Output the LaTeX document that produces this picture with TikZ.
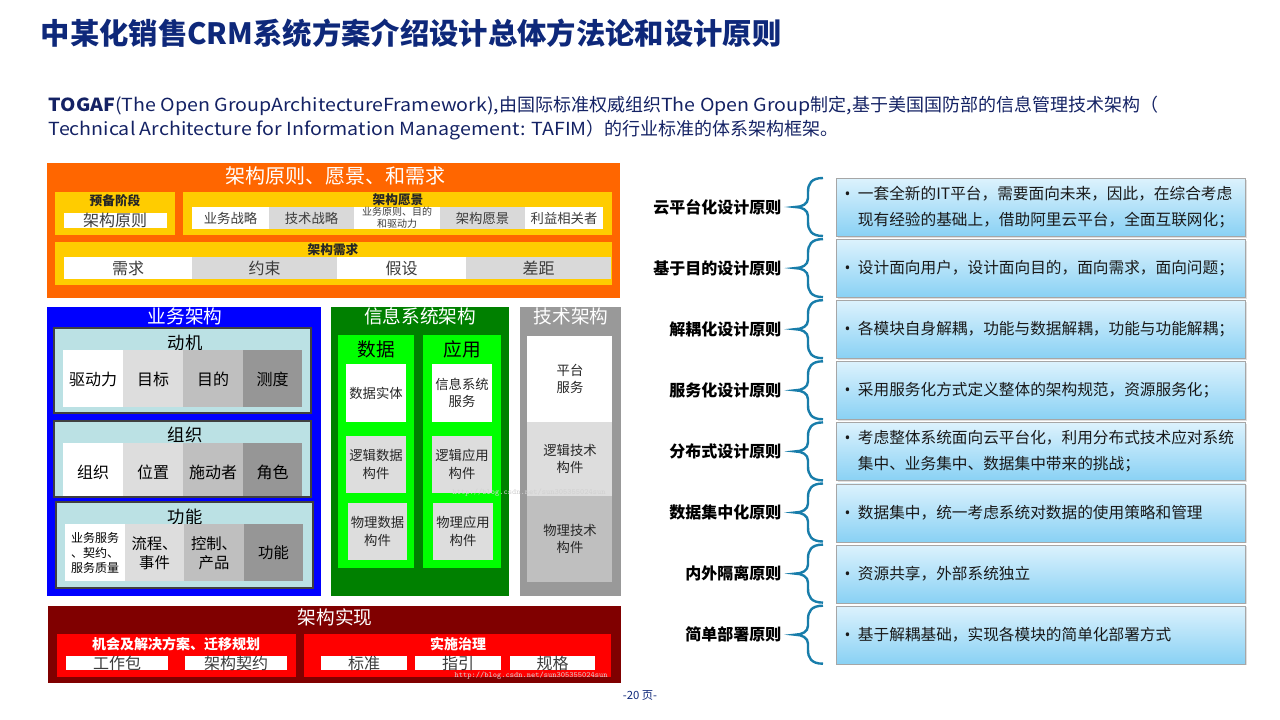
\documentclass[tikz,border=0pt]{standalone}
\usepackage{fontspec}
\setmainfont{Noto Sans CJK SC}
\newfontfamily\latf{Noto Sans CJK SC}[FakeStretch=1.09]
\newfontfamily\bulf{Open Sans}
\usetikzlibrary{shadows}

\definecolor{titleblue}{RGB}{14,40,122}
\definecolor{subblue}{RGB}{20,34,100}
\definecolor{orangebg}{RGB}{255,102,0}
\definecolor{yellowbg}{RGB}{255,204,0}
\definecolor{cellgray}{RGB}{217,217,217}
\definecolor{bluebg}{RGB}{0,0,255}
\definecolor{tealbg}{RGB}{187,225,228}
\definecolor{grayA}{RGB}{221,221,221}
\definecolor{grayB}{RGB}{191,191,191}
\definecolor{grayC}{RGB}{150,150,150}
\definecolor{darkgreen}{RGB}{0,128,0}
\definecolor{lightgreen}{RGB}{0,255,0}
\definecolor{techgray}{RGB}{153,153,153}
\definecolor{darkred}{RGB}{128,0,0}
\definecolor{brightred}{RGB}{255,0,0}
\definecolor{bracecol}{RGB}{24,125,170}
\definecolor{boxtop}{RGB}{220,242,253}
\definecolor{boxbot}{RGB}{137,209,244}
\definecolor{celltext}{RGB}{60,60,60}

\newcommand\pbul{{\bulf\textbullet}\hspace{5.5pt}}

\begin{document}
\begin{tikzpicture}[x=0.75pt, y=-0.75pt,
    headw/.style={text=white, font=\fontsize{14}{16}\selectfont},
    sublab/.style={font=\fontsize{9.5}{11}\selectfont\bfseries, text=black!85},
    celltxt/.style={text=celltext, font=\fontsize{10}{12}\selectfont},
    bigtxt/.style={text=celltext, font=\fontsize{12}{14}\selectfont},
    biztxt/.style={text=black, font=\fontsize{12}{14}\selectfont, align=center},
    istxt/.style={text=black!85, font=\fontsize{10}{13}\selectfont, align=center},
    tealbox/.style={fill=tealbg, draw=black!75, line width=0.8pt},
    pbox/.style={draw=black!35, line width=0.6pt, top color=boxtop, bottom color=boxbot,
        drop shadow={shadow xshift=1pt, shadow yshift=-1pt, opacity=0.25},
        minimum width=306.75pt, minimum height=43.5pt, inner sep=0pt},
    ptxt/.style={anchor=west, align=left, text=black!90, font=\fontsize{11.75}{19.5}\selectfont},
    plab/.style={anchor=east, text=black, font=\fontsize{12}{14}\selectfont\bfseries},
    brace/.style={draw=bracecol, line width=1.8pt},
    wmark/.style={text=black!18, font=\fontsize{6}{7}\selectfont\ttfamily}]

\useasboundingbox (0,0) rectangle (1280,720);

% header
\node[anchor=west, text=titleblue, font=\fontsize{22}{26}\selectfont\bfseries] (title) at (36,33)
    {中某化销售CRM系统方案介绍设计总体方法论和设计原则};
\node[anchor=north west, align=left, text=subblue, font=\fontsize{13.5}{18}\selectfont] (intro) at (44,91)
    {{\latf\bfseries TOGAF}{\latf(The Open GroupArchitectureFramework),}由国际标准权威组织{\latf The Open Group}制定{\latf ,}基于美国国防部的信息管理技术架构（\\
     {\latf Technical Architecture for Information Management: TAFIM}）的行业标准的体系架构框架。};

% architecture principles, vision, requirements
\fill[orangebg] (47,163) rectangle (620,298);
\node[headw, font=\fontsize{15}{17}\selectfont] (vision) at (335,176) {架构原则、愿景、和需求};
\fill[yellowbg] (55,192) rectangle (175,235);
\fill[yellowbg] (183,192) rectangle (612,235);
\fill[yellowbg] (55,242) rectangle (612,285);
\node[sublab] (prep) at (115,201) {预备阶段};
\fill[white] (64,213) rectangle (167,228);
\node[bigtxt] (prin) at (115,220) {架构原则};
\node[sublab] (avis) at (398,200) {架构愿景};
\foreach \xa/\xb/\col/\txt [count=\i] in {192/269/white/业务战略, 269/354/cellgray/技术战略,
        354/440/white/{}, 440/525/cellgray/架构愿景, 525/603/white/利益相关者}{
    \fill[\col] (\xa,207) rectangle (\xb,229);
    \node[celltxt] (v\i) at ({(\xa+\xb)/2},218) {\txt};
}
\node[celltxt, font=\fontsize{7.5}{9}\selectfont, align=center] (v3) at (397,218) {业务原则、目的\\和驱动力};
\node[sublab] (areq) at (333,250) {架构需求};
\foreach \xa/\xb/\col/\txt [count=\i] in {64/192/white/需求, 192/337/cellgray/约束,
        337/466/white/假设, 466/611/cellgray/差距}{
    \fill[\col] (\xa,257) rectangle (\xb,279);
    \node[bigtxt] (r\i) at ({(\xa+\xb)/2},268) {\txt};
}

% business architecture
\fill[bluebg] (47,307) rectangle (321,596);
\node[headw] (biz) at (185,316) {业务架构};
\draw[tealbox] (54,328) rectangle (311,413);
\node[biztxt, font=\fontsize{13}{15}\selectfont] (mot) at (185,343) {动机};
\foreach \xa/\xb/\col/\txt [count=\i] in {63/123/white/驱动力, 123/183/grayA/目标,
        183/243/grayB/目的, 243/302/grayC/测度}{
    \fill[\col] (\xa,350) rectangle (\xb,407);
    \node[biztxt] (m\i) at ({(\xa+\xb)/2},379) {\txt};
}
\draw[tealbox] (54,421) rectangle (311,497);
\node[biztxt, font=\fontsize{13}{15}\selectfont] (org) at (185,435) {组织};
\foreach \xa/\xb/\col/\txt [count=\i] in {63/123/white/组织, 123/183/grayA/位置,
        183/243/grayB/施动者, 243/302/grayC/角色}{
    \fill[\col] (\xa,443) rectangle (\xb,496);
    \node[biztxt] (o\i) at ({(\xa+\xb)/2},472) {\txt};
}
\draw[tealbox] (56,502) rectangle (313,588);
\node[biztxt, font=\fontsize{13}{15}\selectfont] (fun) at (185,517) {功能};
\foreach \xa/\xb/\col/\txt [count=\i] in {65/125/white/{}, 125/184/grayA/{流程、\\事件},
        184/244/grayB/{控制、\\产品}, 244/303/grayC/功能}{
    \fill[\col] (\xa,524) rectangle (\xb,581);
    \node[biztxt, font=\fontsize{11.5}{14}\selectfont] (f\i) at ({(\xa+\xb)/2},553) {\txt};
}
\node[biztxt, font=\fontsize{9}{11}\selectfont] (f1) at (95,553) {业务服务\\、契约、\\服务质量};

% information system architecture
\fill[darkgreen] (331,307) rectangle (509,596);
\node[headw] (isa) at (420,316) {信息系统架构};
\fill[lightgreen] (338,335) rectangle (414,568);
\fill[lightgreen] (423,335) rectangle (501,568);
\node[biztxt, font=\fontsize{14}{16}\selectfont] (data) at (376,349) {数据};
\node[biztxt, font=\fontsize{14}{16}\selectfont] (app) at (462,349) {应用};
\foreach \xa/\ya/\xb/\yb/\col/\txt [count=\i] in {346/364/406/422/white/数据实体,
        346/436/406/493/grayA/{逻辑数据\\构件}, 348/503/407/560/grayA/{物理数据\\构件},
        432/364/492/422/white/{信息系统\\服务}, 432/436/492/493/grayA/{逻辑应用\\构件},
        433/503/493/560/grayA/{物理应用\\构件}}{
    \fill[\col] (\xa,\ya) rectangle (\xb,\yb);
    \node[istxt] (d\i) at ({(\xa+\xb)/2},{(\ya+\yb)/2}) {\txt};
}

% technology architecture
\fill[techgray] (520,307) rectangle (621,596);
\node[headw] (tech) at (571,316) {技术架构};
\foreach \ya/\yb/\col/\txt [count=\i] in {336/422/white/{平台\\服务},
        422/496/grayA/{逻辑技术\\构件}, 496/582/grayB/{物理技术\\构件}}{
    \fill[\col] (527,\ya) rectangle (612,\yb);
    \node[istxt] (t\i) at (570,{(\ya+\yb)/2}) {\txt};
}
\node[wmark, anchor=west] (wm1) at (448,493) {http://blog.csdn.net/sun305355024sun};

% realisation
\fill[darkred] (48,606) rectangle (621,683);
\node[headw] (real) at (335,617) {架构实现};
\fill[brightred] (57,634) rectangle (296,677);
\fill[brightred] (304,634) rectangle (611,677);
\node[sublab, text=white, font=\fontsize{10.5}{12}\selectfont\bfseries] (opp) at (176,644) {机会及解决方案、迁移规划};
\node[sublab, text=white, font=\fontsize{10.5}{12}\selectfont\bfseries] (gov) at (458,644) {实施治理};
\foreach \xa/\xb/\txt [count=\i] in {66/168/工作包, 185/287/架构契约, 321/407/标准,
        415/501/指引, 510/595/规格}{
    \fill[white] (\xa,656) rectangle (\xb,670);
    \node[bigtxt] (w\i) at ({(\xa+\xb)/2},663) {\txt};
}
\node[wmark, anchor=west] (wm2) at (450,676) {http://blog.csdn.net/sun305355024sun};

% design principles
\foreach \lab/\txt [count=\i] in {
    云平台化设计原则/{\pbul 一套全新的IT平台，需要面向未来，因此，在综合考虑\\\hphantom{\pbul}现有经验的基础上，借助阿里云平台，全面互联网化；},
    基于目的设计原则/{\pbul 设计面向用户，设计面向目的，面向需求，面向问题；},
    解耦化设计原则/{\pbul 各模块自身解耦，功能与数据解耦，功能与功能解耦；},
    服务化设计原则/{\pbul 采用服务化方式定义整体的架构规范，资源服务化；},
    分布式设计原则/{\pbul 考虑整体系统面向云平台化，利用分布式技术应对系统\\\hphantom{\pbul}集中、业务集中、数据集中带来的挑战；},
    数据集中化原则/{\pbul 数据集中，统一考虑系统对数据的使用策略和管理},
    内外隔离原则/{\pbul 资源共享，外部系统独立},
    简单部署原则/{\pbul 基于解耦基础，实现各模块的简单化部署方式}}{
    \pgfmathsetmacro{\yt}{178+(\i-1)*61.1}
    \pgfmathsetmacro{\ym}{\yt+29}
    \pgfmathsetmacro{\yb}{\yt+58}
    \node[pbox, anchor=north west] (p\i) at (836,\yt) {};
    \node[ptxt] (pt\i) at (840,\ym) {\txt};
    \node[plab] (pl\i) at (786,\ym) {\lab};
    \draw[brace] (823,\yt) .. controls (811,\yt) and (808,\yt+6) .. (808,\yt+14)
        -- (808,\ym-9) .. controls (808,\ym-3) and (802,\ym) .. (795,\ym)
        .. controls (802,\ym) and (808,\ym+3) .. (808,\ym+9)
        -- (808,\yb-14) .. controls (808,\yb-6) and (811,\yb) .. (823,\yb);
}

\node[text=titleblue, font=\fontsize{8.5}{10}\selectfont] (page) at (640,696) {-20 页-};

\end{tikzpicture}
\end{document}
